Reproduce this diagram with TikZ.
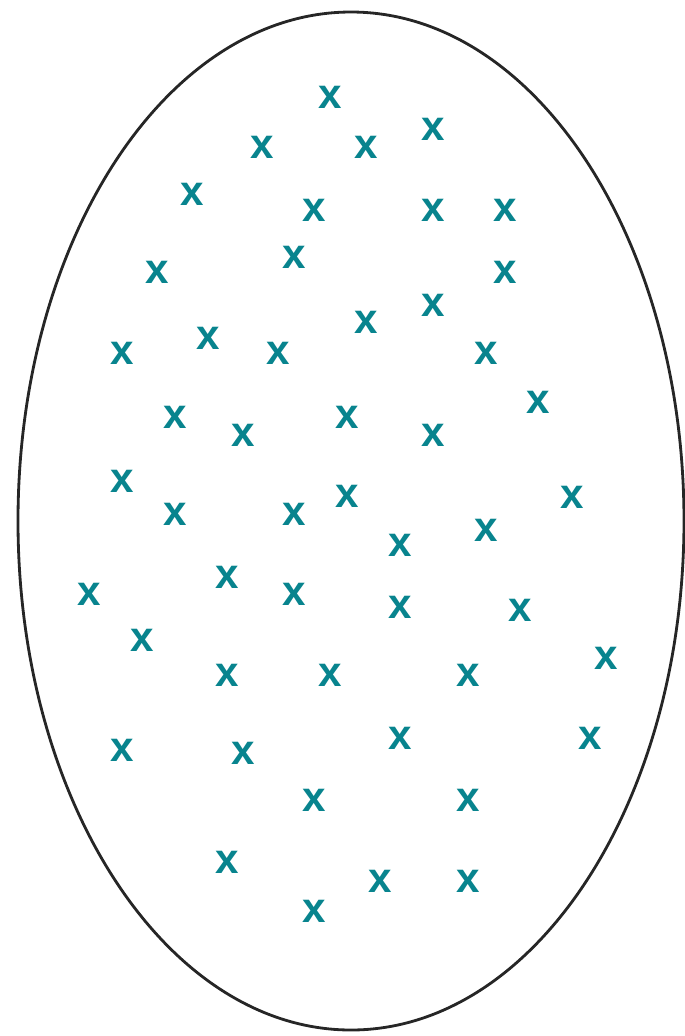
\documentclass[tikz,border=0pt]{standalone}
\usepackage{fontspec}
\setmainfont{Liberation Sans}
\usepackage{tikz}
\definecolor{xteal}{RGB}{8,132,142}
\tikzset{
  cross/.style={text=xteal,font=\fontsize{24}{24}\selectfont\bfseries,inner sep=0pt,anchor=center},
  rim/.style={draw=black!85,line width=1.6pt},
}

\begin{document}
\begin{tikzpicture}[x=0.02cm,y=-0.02cm]
  \useasboundingbox (0,0) rectangle (685,1036);
  \draw[rim] (351,521) ellipse (333 and 509);
  % sample points
  \foreach \px/\py [count=\i] in {330/97,
      262/147,366/147,433/129,
      192/194,314/210,433/210,505/210,
      157/272,294/257,505/272,
      122/353,208/338,278/353,366/322,433/305,486/353,
      175/417,243/435,347/417,433/435,538/402,
      122/481,175/514,294/514,347/496,400/545,486/530,572/497,
      89/594,227/577,294/594,400/607,520/610,
      142/640,227/675,330/675,468/675,606/658,
      122/750,243/753,400/738,590/738,
      314/800,468/800,
      227/862,380/881,468/881,314/911}
    \node[cross] (x\i) at (\px,\py) {x};
\end{tikzpicture}
\end{document}
